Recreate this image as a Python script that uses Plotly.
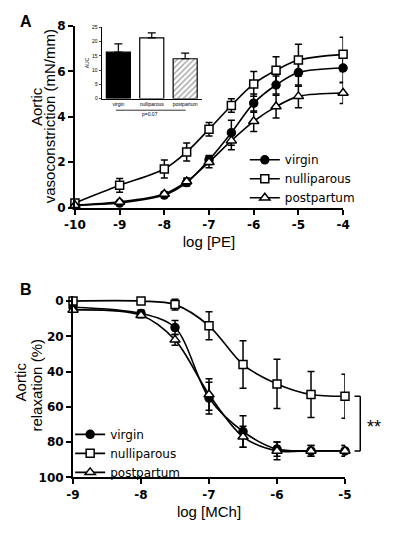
import plotly.graph_objects as go

# ---------------- Panel A data ----------------
pe_log = [-10, -9, -8, -7.5, -7, -6.5, -6, -5.5, -5, -4]
virgin_pe = [0.1, 0.2, 0.55, 1.1, 2.1, 3.3, 4.6, 5.4, 5.95, 6.15]
virgin_pe_err = [0.05, 0.05, 0.08, 0.15, 0.2, 0.55, 0.4, 0.4, 0.6, 0.65]
nulli_pe = [0.2, 0.98, 1.7, 2.45, 3.45, 4.5, 5.45, 6.05, 6.5, 6.75]
nulli_pe_err = [0.1, 0.3, 0.4, 0.4, 0.3, 0.3, 0.55, 0.6, 0.7, 0.75]
post_pe = [0.1, 0.25, 0.6, 1.15, 2.0, 2.95, 3.8, 4.45, 4.9, 5.05]
post_pe_err = [0.05, 0.05, 0.1, 0.15, 0.25, 0.4, 0.45, 0.5, 0.5, 0.47]
pe_ticks = [-10, -9, -8, -7, -6, -5, -4]
pe_ticktext = ["-10", "-9", "-8", "-7", "-6", "-5", "-4"]
a_yticks = [0, 2, 4, 6, 8]

# Inset AUC
auc_groups = ["virgin", "nulliparous", "postpartum"]
auc_values = [16.3, 21.3, 14.0]
auc_err = [2.9, 1.8, 2.0]
auc_ticks = [0, 5, 10, 15, 20, 25]

# ---------------- Panel B data ----------------
mch_log = [-9, -8, -7.5, -7, -6.5, -6, -5.5, -5]
virgin_mch = [3.5, 7, 15, 55, 74, 84, 85, 85]
virgin_mch_err = [1, 2, 4, 9, 9, 4, 3, 3]
nulli_mch = [0, 0, 2, 14, 36, 47, 53, 54]
nulli_mch_err = [0.5, 1, 3, 8, 13.5, 14, 13, 12.5]
post_mch = [5, 8, 22, 53, 77, 85, 85, 85]
post_mch_err = [1, 1.5, 3, 9, 6, 5, 3, 3]
mch_ticks = [-9, -8, -7, -6, -5]
mch_ticktext = ["-9", "-8", "-7", "-6", "-5"]
b_yticks = [0, 20, 40, 60, 80, 100]

FONT = "Liberation Sans, Arial, sans-serif"
TICKFONT = "DejaVu Sans, sans-serif"
LEGFONT = "DejaVu Sans, sans-serif"
W, H = 394, 533


def px_x(p):
    return p / W


def px_y(p):
    return 1 - p / H


series_style = {
    "virgin": dict(symbol="circle", fill="black", size=8),
    "nulliparous": dict(symbol="square", fill="white", size=8),
    "postpartum": dict(symbol="triangle-up", fill="white", size=9),
}

fig = go.Figure()


def add_series(xs, ys, errs, name, xa, ya, leg):
    st = series_style[name]
    fig.add_trace(go.Scatter(
        x=xs, y=ys, name=name, mode="lines+markers",
        line=dict(color="black", width=1.6, shape="spline", smoothing=0.9),
        marker=dict(symbol=st["symbol"], size=st["size"], color=st["fill"],
                    line=dict(color="black", width=1.5)),
        error_y=dict(type="data", array=errs, visible=True, color="black",
                     thickness=1.5, width=3.5),
        cliponaxis=False, xaxis=xa, yaxis=ya, legend=leg))


add_series(pe_log, virgin_pe, virgin_pe_err, "virgin", "x", "y", "legend")
add_series(pe_log, nulli_pe, nulli_pe_err, "nulliparous", "x", "y", "legend")
add_series(pe_log, post_pe, post_pe_err, "postpartum", "x", "y", "legend")
add_series(mch_log, virgin_mch, virgin_mch_err, "virgin", "x2", "y2", "legend2")
add_series(mch_log, nulli_mch, nulli_mch_err, "nulliparous", "x2", "y2", "legend2")
add_series(mch_log, post_mch, post_mch_err, "postpartum", "x2", "y2", "legend2")

# Inset bars
fig.add_trace(go.Bar(
    x=auc_groups, y=auc_values, width=0.72, showlegend=False,
    marker=dict(color=["black", "white", "white"],
                line=dict(color="black", width=1.2),
                pattern=dict(shape=["", "", "/"], fgcolor="black",
                             bgcolor="white", size=4, solidity=0.35)),
    error_y=dict(type="data", symmetric=False, array=auc_err,
                 arrayminus=[0, 0, 0], color="black", thickness=1.2, width=4),
    xaxis="x3", yaxis="y3"))

axis_common = dict(showline=True, linewidth=2, linecolor="black", ticks="outside",
                   ticklen=5, tickwidth=2, tickcolor="black", showgrid=False,
                   zeroline=False, mirror=False,
                   tickfont=dict(family=TICKFONT, size=12, color="black", weight="bold"),
                   title_font=dict(family=FONT, size=15, color="black"))

fig.update_layout(
    width=W, height=H, margin=dict(l=0, r=0, t=0, b=0),
    paper_bgcolor="white", plot_bgcolor="white",
    font=dict(family=FONT, color="black"),
    xaxis=dict(axis_common, domain=[px_x(67), px_x(348)], range=[-10, -4],
               tickvals=pe_ticks, ticktext=pe_ticktext, anchor="y",
               title=dict(text="log [PE]", standoff=6)),
    yaxis=dict(axis_common, domain=[px_y(206), px_y(19.5)], range=[0, 8],
               tickvals=a_yticks, anchor="x"),
    xaxis2=dict(axis_common, domain=[px_x(65), px_x(350)], range=[-9, -5],
                tickvals=mch_ticks, ticktext=mch_ticktext, anchor="y2",
                title=dict(text="log [MCh]", standoff=6)),
    yaxis2=dict(axis_common, domain=[px_y(483), px_y(296.6)], range=[100, -3],
                tickvals=b_yticks, anchor="x2"),
    xaxis3=dict(domain=[px_x(95), px_x(200)], range=[-0.5, 2.5], anchor="y3",
                showline=True, linewidth=1, linecolor="black", ticks="",
                showgrid=False, zeroline=False,
                tickfont=dict(family=FONT, size=5, color="black")),
    yaxis3=dict(domain=[px_y(94), px_y(21)], range=[0, 25], anchor="x3",
                tickvals=auc_ticks, showline=True, linewidth=1, linecolor="black",
                ticks="outside", ticklen=2, tickwidth=1, showgrid=False,
                zeroline=False, tickfont=dict(family=FONT, size=5, color="black"),
                title=dict(text="AUC", font=dict(family=FONT, size=5), standoff=2)),
    legend=dict(x=px_x(245), y=px_y(142), xanchor="left", yanchor="top",
                bgcolor="rgba(0,0,0,0)", font=dict(family=LEGFONT, size=12, color="black"),
                tracegroupgap=0),
    legend2=dict(x=px_x(62), y=px_y(424), xanchor="left", yanchor="top",
                 bgcolor="rgba(0,0,0,0)", font=dict(family=LEGFONT, size=12, color="black"),
                 tracegroupgap=0),
    showlegend=True,
)


def note(text, xp, yp, size=15, angle=0, bold=False):
    fig.add_annotation(text=f"<b>{text}</b>" if bold else text,
                       x=px_x(xp), y=px_y(yp), xref="paper", yref="paper",
                       xanchor="center", yanchor="middle", showarrow=False,
                       textangle=angle, font=dict(family=FONT, size=size, color="black"))


# Panel labels
note("A", 16, 15, size=16, bold=True)
note("B", 16, 290, size=16, bold=True)

# Y axis titles (two lines each)
note("Aortic", 27, 102, angle=-90)
note("vasoconstriction (mN/mm)", 40, 112, angle=-90)
note("Aortic", 10, 385, angle=-90)
note("relaxation (%)", 27, 388, angle=-90)

# Inset bracket and p value
fig.add_shape(type="line", xref="paper", yref="paper",
              x0=px_x(110), x1=px_x(183), y0=px_y(106), y1=px_y(106),
              line=dict(color="black", width=0.8))
note("p=0.07", 146, 110, size=5)

# Panel B significance bracket (y from the series end values)
y_top = nulli_mch[-1]
y_bot = virgin_mch[-1]
for y in (y_top, y_bot):
    fig.add_shape(type="line", xref="paper", yref="y2", x0=px_x(360), x1=px_x(366),
                  y0=y, y1=y, line=dict(color="black", width=1.5))
fig.add_shape(type="line", xref="paper", yref="y2", x0=px_x(366), x1=px_x(366),
              y0=y_top, y1=y_bot, line=dict(color="black", width=1.5))
fig.add_annotation(text="**", x=px_x(380), y=(y_top + y_bot) / 2 + 2,
                   xref="paper", yref="y2", xanchor="center", yanchor="middle",
                   showarrow=False, font=dict(family=FONT, size=18, color="black"))

fig.write_html("out.html", config={"displayModeBar": False},
               post_script="document.body.style.margin='0';document.body.style.overflow='hidden';")
